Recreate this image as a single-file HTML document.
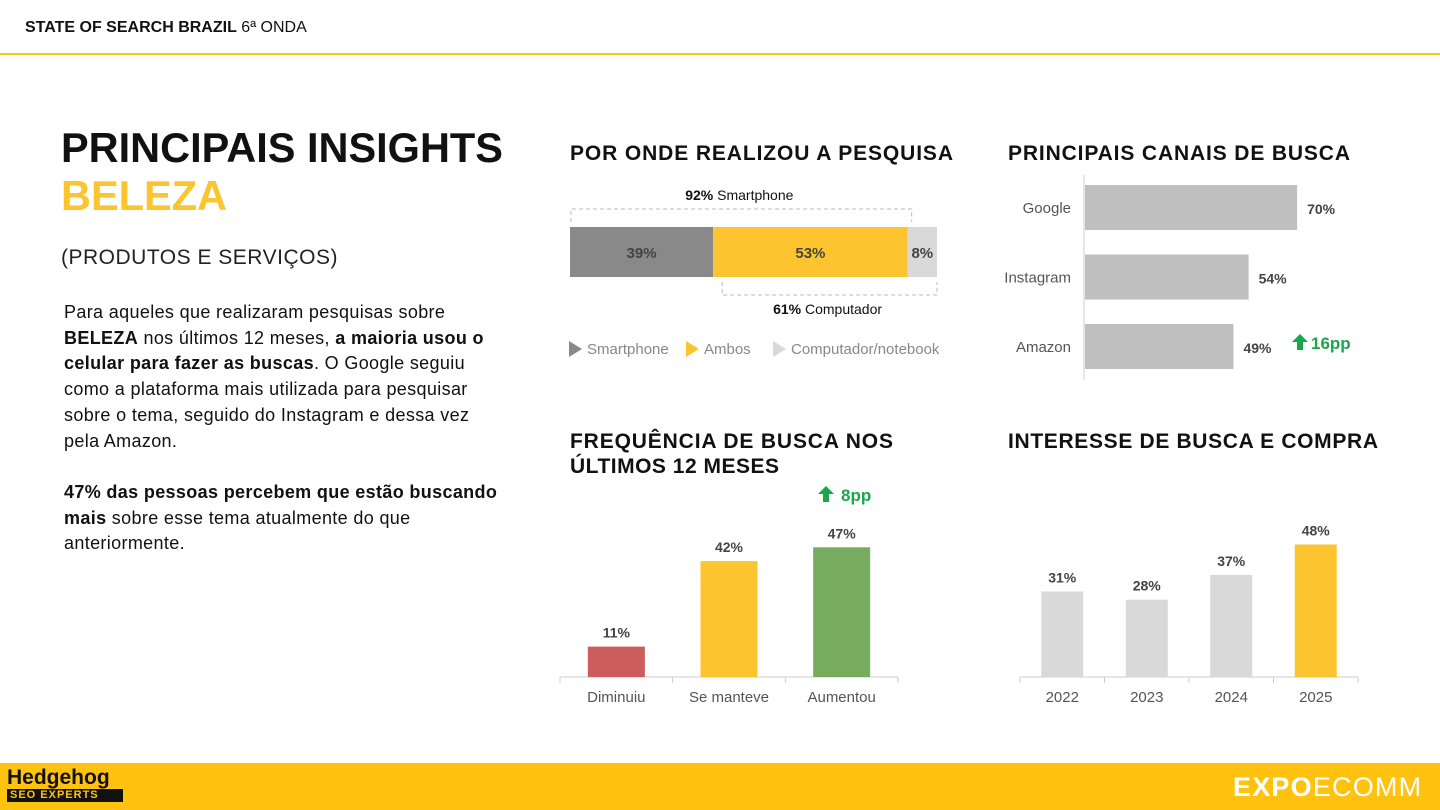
<!DOCTYPE html>
<html><head><meta charset="utf-8"><style>
body{margin:0;width:1440px;height:810px;position:relative;background:#fff;font-family:"Liberation Sans",sans-serif;overflow:hidden}
.a{position:absolute}
</style></head><body>
<div class="a" style="left:25px;top:19px;font-size:16px;color:#111"><b>STATE OF SEARCH BRAZIL</b> 6ª ONDA</div>
<div class="a" style="left:0;top:53px;width:1440px;height:2px;background:#f5c518"></div>
<div class="a" style="left:61px;top:124px;font-size:41.5px;font-weight:bold;color:#111;line-height:48px">PRINCIPAIS INSIGHTS<br><span style="color:#fcc52f">BELEZA</span></div>
<div class="a" style="left:61px;top:246px;font-size:21px;color:#222;letter-spacing:0.5px">(PRODUTOS E SERVIÇOS)</div>
<div class="a" style="left:64px;top:300px;width:480px;font-size:18px;line-height:25.7px;color:#111;white-space:nowrap;letter-spacing:0.35px">Para aqueles que realizaram pesquisas sobre<br><b>BELEZA</b> nos últimos 12 meses, <b>a maioria usou o</b><br><b>celular para fazer as buscas</b>. O Google seguiu<br>como a plataforma mais utilizada para pesquisar<br>sobre o tema, seguido do Instagram e dessa vez<br>pela Amazon.<br><br><b>47% das pessoas percebem que estão buscando</b><br><b>mais</b> sobre esse tema atualmente do que<br>anteriormente.</div>
<div class="a" style="left:0;top:763px;width:1440px;height:47px;background:#ffc20e"></div>
<div class="a" style="left:7px;top:767px;font-weight:bold;font-size:21px;line-height:22px;color:#111">Hedgehog<div style="background:#111;color:#ffc20e;font-size:11px;line-height:13px;letter-spacing:1px;padding:0 3px;width:110px">SEO EXPERTS</div></div>
<div class="a" style="left:1233px;top:772px;font-size:27px;color:#fff;letter-spacing:1.2px"><b>EXPO</b>ECOMM</div>
<svg class="a" style="left:0;top:0" width="1440" height="810" font-family="Liberation Sans, sans-serif">
<text x="570" y="160" font-size="21" font-weight="bold" fill="#111" textLength="383">POR ONDE REALIZOU A PESQUISA</text>
<text x="1008" y="160" font-size="21" font-weight="bold" fill="#111" textLength="342">PRINCIPAIS CANAIS DE BUSCA</text>
<text x="570" y="448" font-size="21" font-weight="bold" fill="#111" textLength="323">FREQUÊNCIA DE BUSCA NOS</text>
<text x="570" y="473" font-size="21" font-weight="bold" fill="#111" textLength="209">ÚLTIMOS 12 MESES</text>
<text x="1008" y="448" font-size="21" font-weight="bold" fill="#111" textLength="370">INTERESSE DE BUSCA E COMPRA</text>
<g id="g"></g>
</svg>
<script>
const devLabels=["Smartphone","Ambos","Computador/notebook"];
const devValues=[39,53,8];
const devColors=["#898989","#fcc52f","#d9d9d9"];
const chanCats=["Google","Instagram","Amazon"];
const chanValues=[70,54,49];
const freqCats=["Diminuiu","Se manteve","Aumentou"];
const freqValues=[11,42,47];
const freqColors=["#cd5c5c","#fcc52f","#77ac5f"];
const yearCats=["2022","2023","2024","2025"];
const yearValues=[31,28,37,48];
const yearColors=["#d9d9d9","#d9d9d9","#d9d9d9","#fcc52f"];
const smartTotal=92, compTotal=61, chanDelta="16pp", freqDelta="8pp";

const NS="http://www.w3.org/2000/svg",g=document.getElementById('g');
function el(t,a,txt){const e=document.createElementNS(NS,t);for(const k in a)e.setAttribute(k,a[k]);if(txt!==undefined)e.textContent=txt;g.appendChild(e);return e;}
const sx=v=>570+v*3.67;
let acc=0;
devValues.forEach((v,i)=>{
 const r=el('rect',{x:sx(acc),y:227,width:sx(acc+v)-sx(acc),height:50,fill:devColors[i]});
 
 
 const t=el('text',{x:(sx(acc)+sx(acc+v))/2,y:258,'text-anchor':'middle','font-size':15,'font-weight':'bold',fill:'#444'},v+'%');
 
 
 acc+=v;
});
el('path',{d:`M571 222V209H${sx(smartTotal)+4}V222`,fill:'none',stroke:'#bbb','stroke-dasharray':'4 3'});
el('path',{d:`M${sx(100-compTotal)+9} 282V295H${sx(100)}V282`,fill:'none',stroke:'#bbb','stroke-dasharray':'4 3'});
const t1=el('text',{x:(571+sx(smartTotal))/2,y:200,'text-anchor':'middle','font-size':14,fill:'#111'});
t1.innerHTML=`<tspan font-weight="bold">${smartTotal}%</tspan> Smartphone`;


const t2=el('text',{x:(sx(100-compTotal)+9+sx(100))/2-2,y:314,'text-anchor':'middle','font-size':14,fill:'#111'});
t2.innerHTML=`<tspan font-weight="bold">${compTotal}%</tspan> Computador`;


const lx=[569,686,773];
devLabels.forEach((l,i)=>{
 el('path',{d:`M${lx[i]} 341l13 8l-13 8z`,fill:devColors[i]});
 const t=el('text',{x:lx[i]+18,y:354,'font-size':15,fill:'#888'},l);
 
 
});
const cx=v=>1085+v*3.03;
el('line',{x1:1084,y1:175,x2:1084,y2:380,stroke:'#ccc'});
chanValues.forEach((v,i)=>{
 const y=185+i*69.5;
 const r=el('rect',{x:1085,y:y,width:cx(v)-1085,height:45,fill:'#bfbfbf'});
 
 
 el('text',{x:1071,y:y+28,'text-anchor':'end','font-size':15,fill:'#555'},chanCats[i]);
 el('text',{x:cx(v)+10,y:y+29,'font-size':14,'font-weight':'bold',fill:'#444'},v+'%');
});
el('path',{d:'M1300 334l8 8h-5v8h-6v-8h-5z',fill:'#1aa64b'});
el('text',{x:1311,y:349,'font-size':17,'font-weight':'bold',fill:'#1aa64b'},chanDelta);
function cols(x0,x1,cats,vals,colors,w,name){
 const base=677,k=2.76,step=(x1-x0)/cats.length;
 el('line',{x1:x0,y1:base,x2:x1,y2:base,stroke:'#ccc'});
 for(let i=0;i<=cats.length;i++)el('line',{x1:x0+i*step,y1:base,x2:x0+i*step,y2:base+6,stroke:'#ccc'});
 vals.forEach((v,i)=>{
  const c=x0+step*(i+.5),h=v*k;
  const r=el('rect',{x:c-w/2,y:base-h,width:w,height:h,fill:colors[i]});
  
  
  el('text',{x:c,y:base-h-9,'text-anchor':'middle','font-size':14,'font-weight':'bold',fill:'#444'},v+'%');
  el('text',{x:c,y:base+25,'text-anchor':'middle','font-size':15,fill:'#555'},cats[i]);
 });
}
cols(560,898,freqCats,freqValues,freqColors,57,'frequency');
cols(1020,1358,yearCats,yearValues,yearColors,42,'interest');
el('path',{d:'M826 486l8 8h-5v8h-6v-8h-5z',fill:'#1aa64b'});
el('text',{x:841,y:501,'font-size':17,'font-weight':'bold',fill:'#1aa64b'},freqDelta);
</script>
</body></html>
